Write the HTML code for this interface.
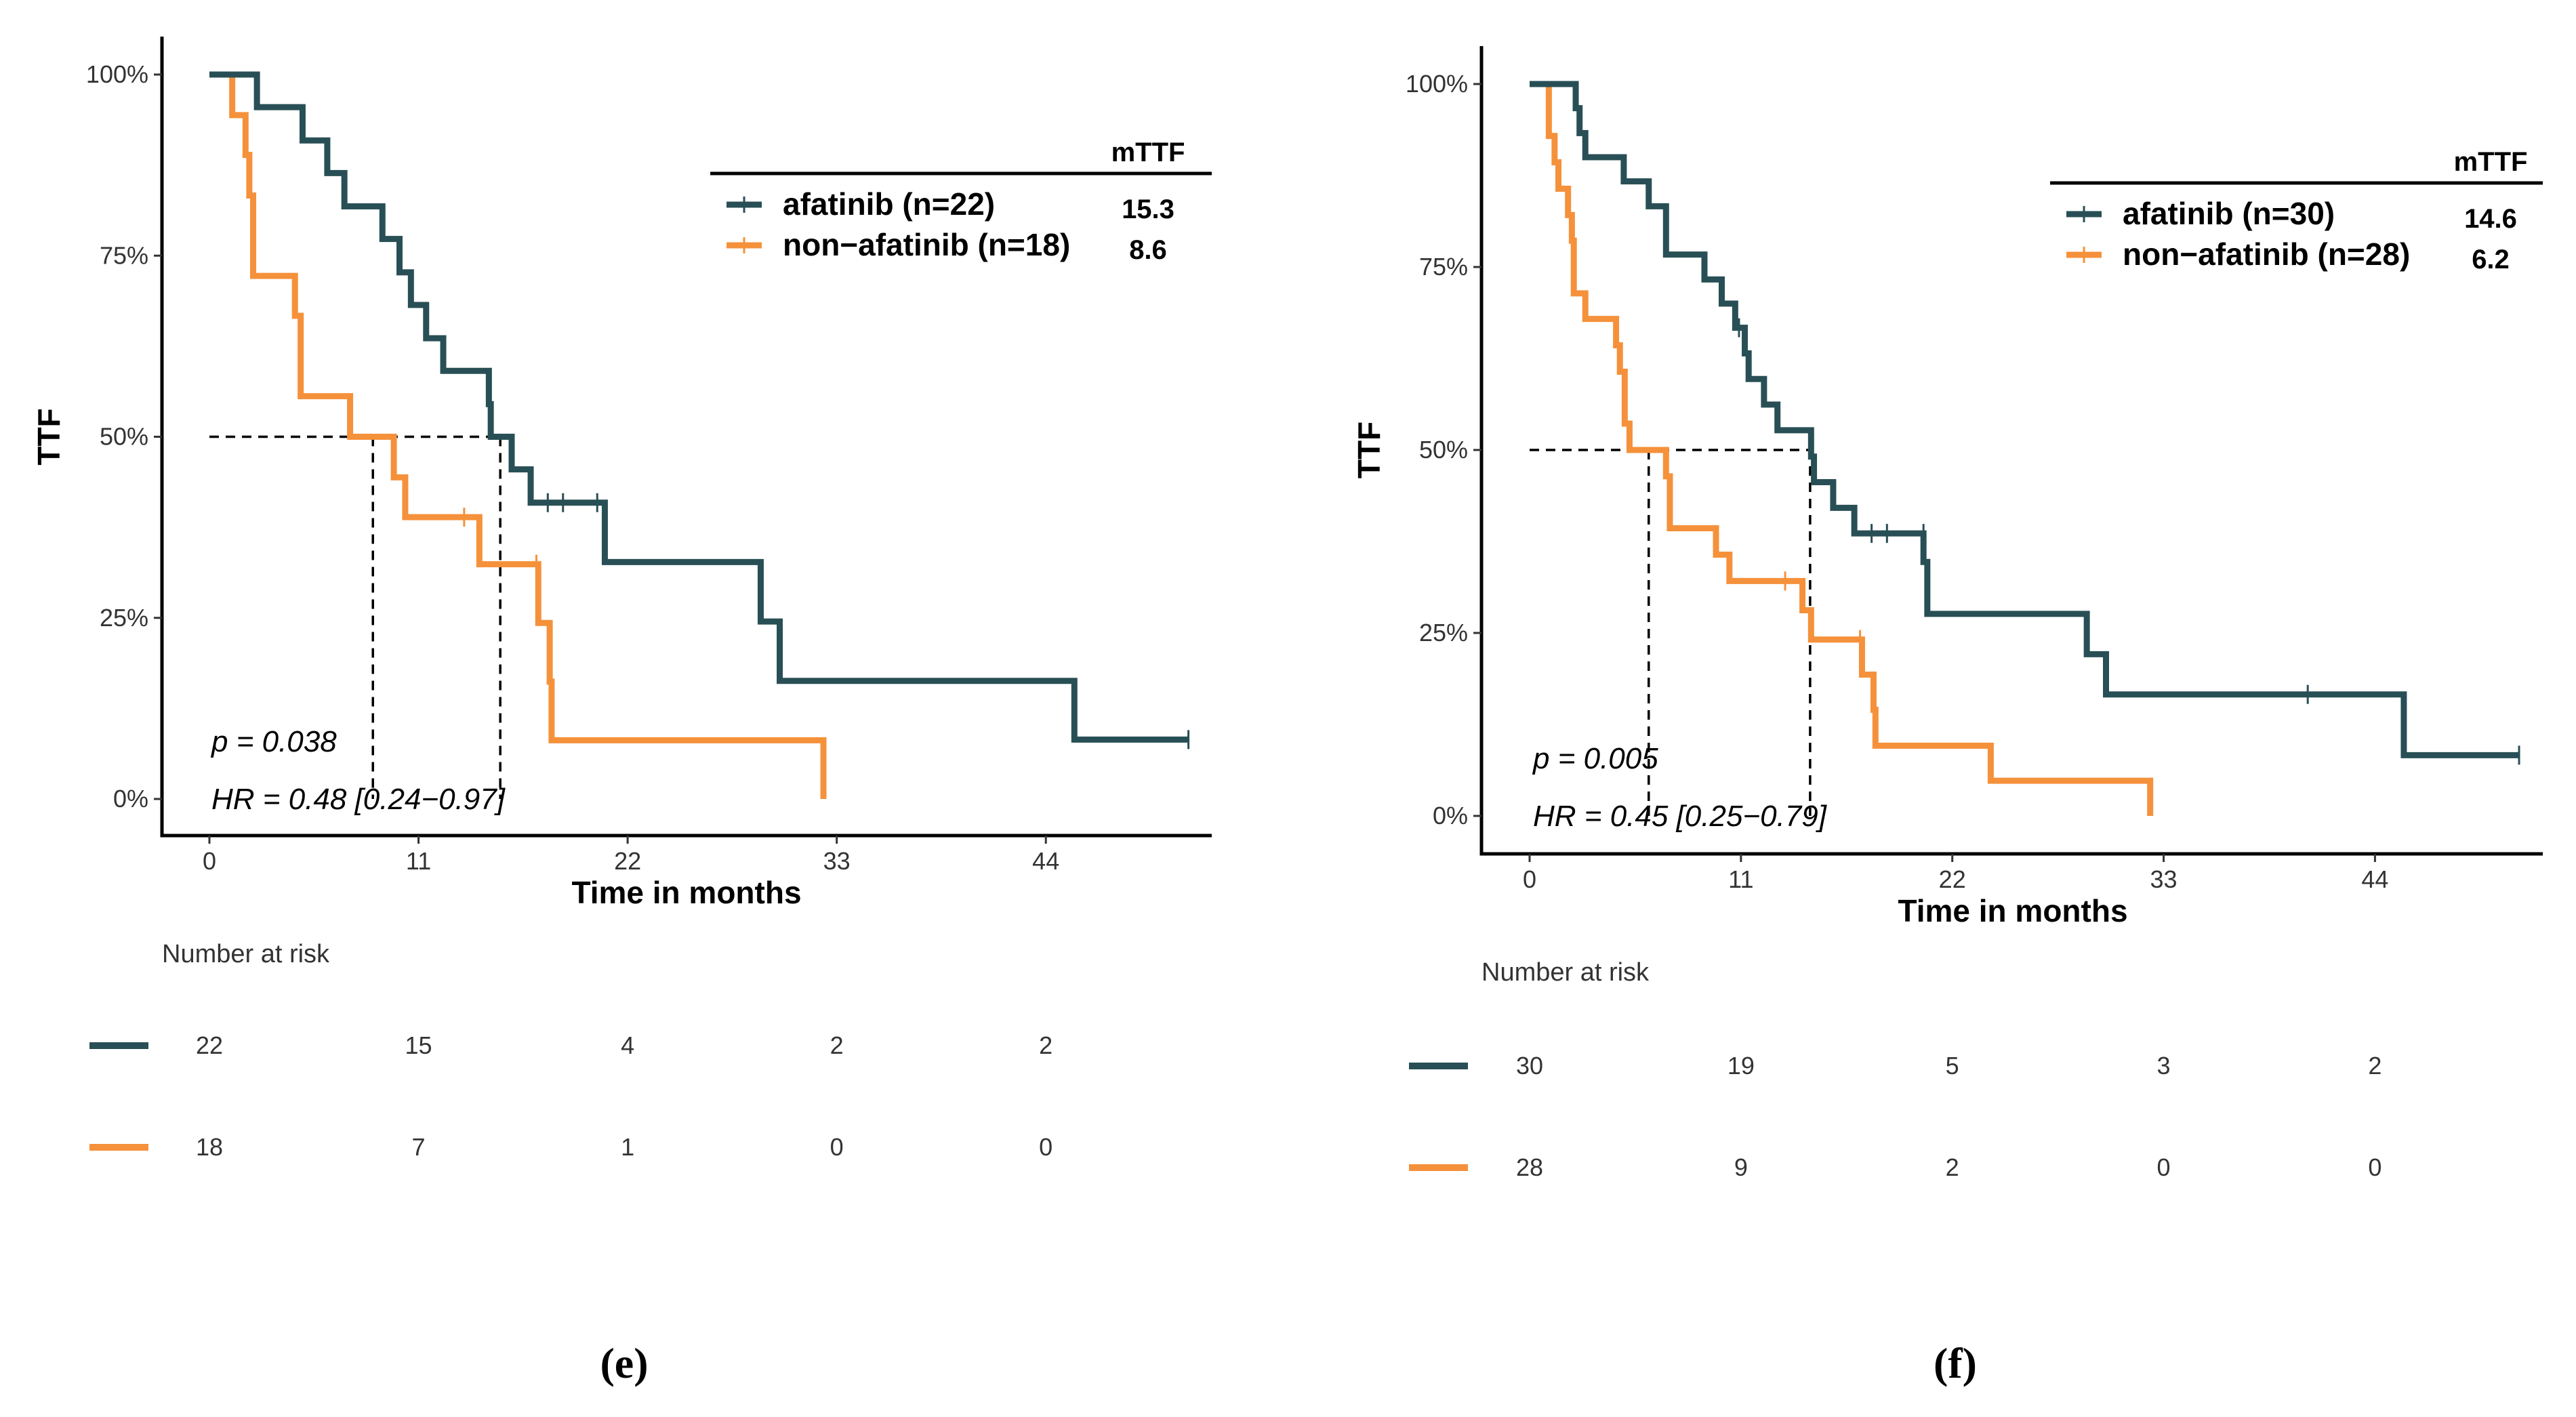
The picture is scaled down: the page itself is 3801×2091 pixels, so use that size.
<!DOCTYPE html>
<html><head><meta charset="utf-8">
<style>
html,body{margin:0;padding:0;background:#fff;}
svg{display:block;}
</style></head>
<body>
<svg id="fig" width="3801" height="2091" viewBox="0 0 3801 2091" xmlns="http://www.w3.org/2000/svg" font-family="Liberation Sans, sans-serif"></svg>
<script>
// ---- Panel e data ----
const eAfaTimes=[0,2.5,4.9,6.2,7.1,9.1,10.0,10.6,11.4,12.3,14.7,14.8,15.9,16.9,20.8,29.0,30.0,45.5,51.5];
const eAfaSurv=[100,95.5,90.9,86.4,81.8,77.3,72.7,68.2,63.6,59.1,54.5,50,45.5,40.9,32.7,24.5,16.3,8.2,8.2];
const eAfaCensT=[17.8,18.6,20.4,51.5];
const eAfaCensS=[40.9,40.9,40.9,8.2];
const eNonTimes=[0,1.2,1.9,2.1,2.3,4.5,4.8,7.4,9.7,10.3,14.2,17.3,17.9,18.0,32.3];
const eNonSurv=[100,94.4,88.9,83.3,72.2,66.7,55.6,50,44.4,38.9,32.4,24.3,16.2,8.1,0];
const eNonCensT=[13.4,17.2];
const eNonCensS=[38.9,32.4];
const eMedians=[8.6,15.3];
const eRiskAfa=[22,15,4,2,2];
const eRiskNon=[18,7,1,0,0];
// ---- Panel f data ----
const fAfaTimes=[0,2.4,2.6,2.9,4.9,6.2,7.1,9.1,10.0,10.7,11.2,11.4,12.2,12.9,14.65,14.8,15.8,16.9,20.5,20.7,29.0,30.0,45.5,51.5];
const fAfaSurv=[100,96.7,93.3,90,86.7,83.3,76.7,73.3,70,66.7,63.2,59.7,56.2,52.7,49.1,45.6,42.1,38.6,34.7,27.6,22.1,16.6,8.3,8.3];
const fAfaCensT=[10.9,17.8,18.6,20.5,40.5,51.5];
const fAfaCensS=[66.7,38.6,38.6,38.6,16.6,8.3];
const fNonTimes=[0,1.0,1.3,1.5,2.0,2.2,2.3,2.9,4.5,4.7,4.95,5.2,7.1,7.3,9.7,10.4,14.2,14.65,17.3,17.9,18.0,24.0,32.3];
const fNonSurv=[100,92.9,89.3,85.7,82.1,78.6,71.4,67.9,64.3,60.7,53.6,50,46.4,39.3,35.7,32.1,28.1,24.1,19.3,14.5,9.6,4.8,0];
const fNonCensT=[13.3,17.2];
const fNonCensS=[32.1,24.1];
const fMedians=[6.2,14.6];
const fRiskAfa=[30,19,5,3,2];
const fRiskNon=[28,9,2,0,0];
// ---- shared ----
const xTicks=[0,11,22,33,44];
const yTicks=[0,25,50,75,100];
const yTickLabels=["0%","25%","50%","75%","100%"];

const NS="http://www.w3.org/2000/svg";
const svg=document.getElementById('fig');
const DARK="#284f55", ORANGE="#f5913b";
function mk(tag,attrs,parent){const e=document.createElementNS(NS,tag);for(const k in attrs)e.setAttribute(k,attrs[k]);(parent||svg).appendChild(e);return e;}
function txt(s,attrs,parent){const e=mk('text',attrs,parent);e.textContent=s;return e;}

function panel(P){
  const g=mk('g',{});
  
  
  const X=t=>P.x0+t*P.pxPerMonth;
  const Y=s=>P.y0-(s/100)*(P.y0-P.y100);
  const ax=mk('path',{d:`M${P.axX},${P.axTop}V${P.axY}H${P.axRight}`,stroke:'#000','stroke-width':5,fill:'none'},g);
  
  
  yTicks.forEach((v,i)=>{
    mk('line',{x1:P.axX-12,x2:P.axX,y1:Y(v),y2:Y(v),stroke:'#333','stroke-width':3},g);
    const t=txt(yTickLabels[i],{x:P.axX-20,y:Y(v)+12,'text-anchor':'end','font-size':36,fill:'#333'},g);
    
    
  });
  xTicks.forEach(v=>{
    mk('line',{x1:X(v),x2:X(v),y1:P.axY,y2:P.axY+12,stroke:'#333','stroke-width':3},g);
    const t=txt(String(v),{x:X(v),y:P.axY+50,'text-anchor':'middle','font-size':36,fill:'#333'},g);
    
    
  });
  const xt=txt('Time in months',{x:P.xTitleX,y:P.axY+100,'text-anchor':'middle','font-size':46,'font-weight':'bold',fill:'#000'},g);
  
  
  const yt=txt('TTF',{x:0,y:0,transform:`translate(${P.yTitleX},${Y(50)}) rotate(-90)`,'text-anchor':'middle','font-size':46,'font-weight':'bold',fill:'#000'},g);
  
  
  const mx=Math.max(...P.medians);
  const hl=mk('line',{x1:X(0),x2:X(mx),y1:Y(50),y2:Y(50),stroke:'#000','stroke-width':3.5,'stroke-dasharray':'14,10'},g);
  
  
  P.medians.forEach(m=>{
    const vl=mk('line',{x1:X(m),x2:X(m),y1:Y(50),y2:Y(0),stroke:'#000','stroke-width':3.5,'stroke-dasharray':'14,10'},g);
    
    
  });
  function curve(times,surv,ct,cs,color,w,name){
    let d=`M${X(times[0])},${Y(surv[0])}`;
    for(let i=1;i<times.length;i++){d+=`H${X(times[i])}V${Y(surv[i])}`;}
    const p=mk('path',{d:d,stroke:color,'stroke-width':w,fill:'none','stroke-linejoin':'miter'},g);
    
    
    ct.forEach((t,i)=>{
      const c=mk('path',{d:`M${X(t)},${Y(cs[i])-14}v28`,stroke:color,'stroke-width':3},g);
      
      
    });
  }
  curve(P.nonT,P.nonS,P.nonCT,P.nonCS,ORANGE,9,'non-afatinib');
  curve(P.afaT,P.afaS,P.afaCT,P.afaCS,DARK,9,'afatinib');
  const pt=txt(P.pText,{x:P.statX,y:Y(0)-70,'font-size':44,'font-style':'italic',fill:'#000'},g);
  
  
  const hr=txt(P.hrText,{x:P.statX,y:Y(0)+15,'font-size':44,'font-style':'italic',fill:'#000'},g);
  
  
  const lg=mk('g',{},g);
  
  
  txt('mTTF',{x:P.valX,y:P.legLineY-18,'text-anchor':'middle','font-size':40,'font-weight':'bold'},lg);
  mk('line',{x1:P.legX1,x2:P.axRight,y1:P.legLineY,y2:P.legLineY,stroke:'#000','stroke-width':5},lg);
  [[P.afaLabel,DARK,P.afaVal,46],[P.nonLabel,ORANGE,P.nonVal,106]].forEach((r,i)=>{
    const y=P.legLineY+r[3];
    const e=mk('g',{},lg);
    
    
    mk('line',{x1:P.legX1+24,x2:P.legX1+76,y1:y,y2:y,stroke:r[1],'stroke-width':9},e);
    mk('line',{x1:P.legX1+50,x2:P.legX1+50,y1:y-12,y2:y+12,stroke:r[1],'stroke-width':3},e);
    txt(r[0],{x:P.legX1+107,y:y+15,'font-size':46,'font-weight':'bold'},e);
    txt(r[2],{x:P.valX,y:y+20,'text-anchor':'middle','font-size':40,'font-weight':'bold'},e);
  });
  const rt=mk('g',{},g);
  
  
  txt('Number at risk',{x:P.axX,y:P.riskTitleY,'font-size':38,fill:'#333'},rt);
  [[P.riskAfa,DARK,P.riskY1],[P.riskNon,ORANGE,P.riskY2]].forEach(r=>{
    mk('line',{x1:P.axX-107,x2:P.axX-20,y1:r[2]-12,y2:r[2]-12,stroke:r[1],'stroke-width':10},rt);
    r[0].forEach((n,i)=>{txt(String(n),{x:X(xTicks[i]),y:r[2],'text-anchor':'middle','font-size':36,fill:'#333'},rt);});
  });
  const lab=txt(P.letter,{x:P.letterX,y:2033,'text-anchor':'middle','font-size':64,'font-family':'Liberation Serif, serif','font-weight':'bold'},g);
  
  
}

panel({name:'panel-e',x0:309,pxPerMonth:28.05,y0:1179,y100:110,axX:239,axTop:54,axY:1233,axRight:1788,
  xTitleX:1013,yTitleX:88,medians:eMedians,
  afaT:eAfaTimes,afaS:eAfaSurv,afaCT:eAfaCensT,afaCS:eAfaCensS,
  nonT:eNonTimes,nonS:eNonSurv,nonCT:eNonCensT,nonCS:eNonCensS,
  pText:'p = 0.038',hrText:'HR = 0.48 [0.24\u22120.97]',statX:312,
  legX1:1048,legLineY:256,valX:1694,afaLabel:'afatinib (n=22)',nonLabel:'non\u2212afatinib (n=18)',afaVal:'15.3',nonVal:'8.6',
  riskTitleY:1420,riskY1:1555,riskY2:1705,riskAfa:eRiskAfa,riskNon:eRiskNon,letter:'(e)',letterX:921});

panel({name:'panel-f',x0:2257,pxPerMonth:28.35,y0:1204,y100:124,axX:2186,axTop:68,axY:1260,axRight:3752,
  xTitleX:2970,yTitleX:2036,medians:fMedians,
  afaT:fAfaTimes,afaS:fAfaSurv,afaCT:fAfaCensT,afaCS:fAfaCensS,
  nonT:fNonTimes,nonS:fNonSurv,nonCT:fNonCensT,nonCS:fNonCensS,
  pText:'p = 0.005',hrText:'HR = 0.45 [0.25\u22120.79]',statX:2262,
  legX1:3025,legLineY:270,valX:3675,afaLabel:'afatinib (n=30)',nonLabel:'non\u2212afatinib (n=28)',afaVal:'14.6',nonVal:'6.2',
  riskTitleY:1447,riskY1:1585,riskY2:1735,riskAfa:fRiskAfa,riskNon:fRiskNon,letter:'(f)',letterX:2885});
</script>
</body></html>
